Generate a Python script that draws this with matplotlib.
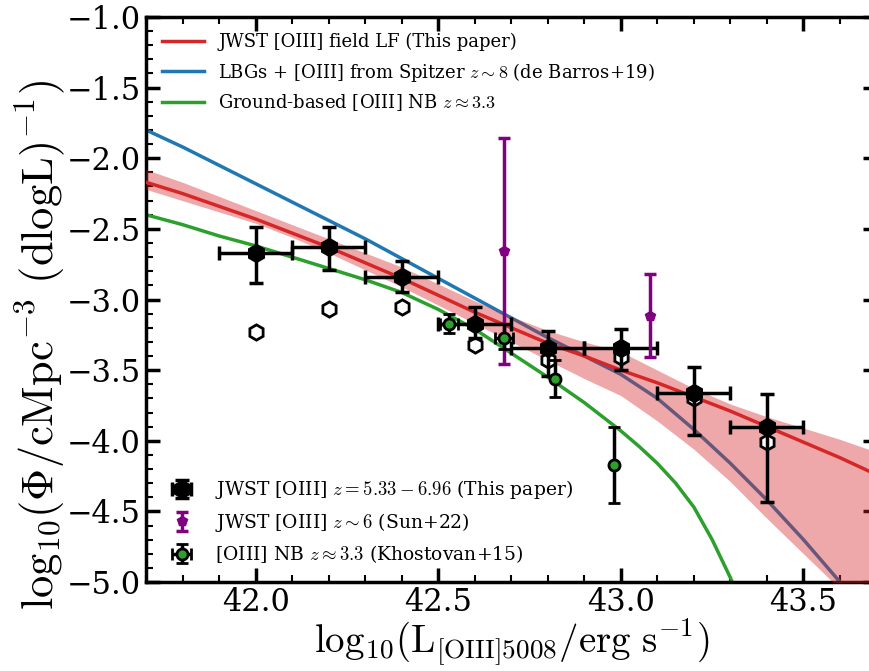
import numpy as np
import matplotlib
matplotlib.use('Agg')
from matplotlib import pyplot as plt
from matplotlib.ticker import MultipleLocator

plt.rcParams['font.family'] = 'DejaVu Serif'
plt.rcParams['mathtext.fontset'] = 'cm'

# Funciones de luminosidad (log10 Phi) leidas a lo largo de cada curva
lf_x = [41.7, 41.8, 41.9, 42.0, 42.1, 42.2, 42.3, 42.4, 42.5, 42.6,
        42.7, 42.8, 42.9, 43.0, 43.1, 43.2, 43.3, 43.4, 43.5, 43.6, 43.7]
lf_this = [-2.17, -2.25, -2.34, -2.43, -2.53, -2.63, -2.74, -2.85, -2.97,
           -3.09, -3.20, -3.31, -3.40, -3.50, -3.59, -3.69, -3.79, -3.90,
           -4.01, -4.12, -4.24]
lf_lo = [-2.22, -2.30, -2.38, -2.46, -2.56, -2.67, -2.79, -2.91, -3.04,
         -3.17, -3.30, -3.43, -3.56, -3.68, -3.86, -4.06, -4.29, -4.55,
         -4.80, -5.05, -5.30]
lf_hi = [-2.08, -2.17, -2.27, -2.37, -2.47, -2.57, -2.67, -2.77, -2.89,
         -3.01, -3.12, -3.22, -3.30, -3.37, -3.50, -3.63, -3.74, -3.83,
         -3.91, -3.99, -4.08]
lf_sbx = [41.7, 41.8, 41.9, 42.0, 42.1, 42.2, 42.3, 42.4, 42.5, 42.6,
          42.7, 42.8, 42.9, 43.0, 43.1, 43.2, 43.3, 43.4, 43.5, 43.6]
lf_spitzer = [-1.80, -1.92, -2.05, -2.18, -2.31, -2.44, -2.57, -2.71,
              -2.85, -2.99, -3.13, -3.27, -3.40, -3.53, -3.70, -3.92,
              -4.16, -4.42, -4.70, -5.00]
lf_nbx = [41.7, 41.8, 41.9, 42.0, 42.1, 42.2, 42.3, 42.4, 42.5, 42.6,
          42.7, 42.8, 42.9, 42.95, 43.0, 43.05, 43.1, 43.15, 43.2,
          43.25, 43.3, 43.32]
lf_nb = [-2.40, -2.47, -2.55, -2.62, -2.70, -2.78, -2.86, -2.95, -3.07,
         -3.21, -3.38, -3.55, -3.73, -3.83, -3.93, -4.04, -4.16, -4.30,
         -4.47, -4.70, -4.97, -5.10]

# Este trabajo: z = 5.33 - 6.96
lum = [42.0, 42.2, 42.4, 42.6, 42.8, 43.0, 43.2, 43.4]
phi = [-2.67, -2.63, -2.84, -3.17, -3.34, -3.34, -3.66, -3.90]
phi_up = [0.18, 0.14, 0.11, 0.12, 0.12, 0.13, 0.18, 0.23]
phi_dn = [0.21, 0.16, 0.11, 0.10, 0.20, 0.16, 0.30, 0.53]
lum_err = [0.1, 0.1, 0.1, 0.1, 0.1, 0.1, 0.1, 0.1]
phi_raw = [-3.23, -3.07, -3.05, -3.32, -3.43, -3.41, -3.70, -4.01]

# Sun+22, z ~ 6
sun_lum = [42.68, 43.08]
sun_phi = [-2.66, -3.12]
sun_up = [0.80, 0.30]
sun_dn = [0.80, 0.29]

# Khostovan+15, z ~ 3.3
kh_lum = [42.53, 42.68, 42.82, 42.98]
kh_phi = [-3.17, -3.27, -3.56, -4.17]
kh_up = [0.07, 0.10, 0.13, 0.27]
kh_dn = [0.07, 0.08, 0.13, 0.27]
kh_lerr = [0.025, 0.025, 0.0, 0.0]

fig = plt.figure(figsize=(8.7, 6.71), dpi=100)
ax = fig.add_axes([0.1678, 0.1326, 0.8397, 0.8421])

l1, = ax.plot(lf_sbx, lf_spitzer, color='#1f77b4', lw=2.5, zorder=2,
              label=r'LBGs + [OIII] from Spitzer $z\sim8$ (de Barros+19)')
l2, = ax.plot(lf_nbx, lf_nb, color='#2ca02c', lw=2.5, zorder=2,
              label=r'Ground-based [OIII] NB $z\approx3.3$')
ax.fill_between(lf_x, lf_lo, lf_hi, color='#d62728', alpha=0.4, lw=0,
                zorder=3)
l0, = ax.plot(lf_x, lf_this, color='#d62728', lw=2.5, zorder=4,
              label='JWST [OIII] field LF (This paper)')

ax.plot(lum, phi_raw, 'h', ms=11, mfc='white', mec='black', mew=2,
        zorder=5)
e0 = ax.errorbar(lum, phi, yerr=[phi_dn, phi_up], xerr=lum_err, fmt='h',
                 ms=13, color='black', ecolor='black', elinewidth=2.5,
                 capsize=5, capthick=2.5, zorder=6,
                 label=r'JWST [OIII] $z=5.33-6.96$ (This paper)')
e1 = ax.errorbar(sun_lum, sun_phi, yerr=[sun_dn, sun_up], fmt='p', ms=7,
                 color='purple', elinewidth=2.5, capsize=4, capthick=2.5,
                 zorder=7, label=r'JWST [OIII] $z\sim6$ (Sun+22)')
e2 = ax.errorbar(kh_lum, kh_phi, yerr=[kh_dn, kh_up], xerr=kh_lerr,
                 fmt='o', ms=8, mfc='#2ca02c', mec='black', mew=2,
                 ecolor='black', elinewidth=2.5, capsize=4, capthick=2.5,
                 zorder=7, label=r'[OIII] NB $z\approx3.3$ (Khostovan+15)')

ax.set_xlim(41.7, 43.7)
ax.set_ylim(-5.0, -1.0)
ax.xaxis.set_major_locator(MultipleLocator(0.5))
ax.xaxis.set_minor_locator(MultipleLocator(0.1))
ax.yaxis.set_major_locator(MultipleLocator(0.5))
ax.yaxis.set_minor_locator(MultipleLocator(0.1))
ax.tick_params(which='both', direction='in', top=True, right=True,
               labelsize=22)
ax.tick_params(which='major', length=10, width=2.5)
ax.tick_params(which='minor', length=5, width=1.5)
for s in ax.spines.values():
    s.set_linewidth(2.5)

ax.set_xlabel(r'$\mathrm{log}_{10}(\mathrm{L_{[OIII]5008}/erg\ s^{-1}})$',
              fontsize=28, labelpad=-1)
ax.set_ylabel(r'$\mathrm{log}_{10}(\Phi/\mathrm{cMpc^{-3}\ (dlogL)^{-1}})$',
              fontsize=32)
ax.yaxis.set_label_coords(-0.108, 0.42)

leg1 = ax.legend(handles=[l0, l1, l2], loc='upper left', frameon=False,
                 fontsize=13, handlelength=2.3)
ax.add_artist(leg1)
ax.legend(handles=[e0, e1, e2], loc='lower left', frameon=False,
          fontsize=13.5, handlelength=2.0)

fig.savefig('out.png', dpi=100)
